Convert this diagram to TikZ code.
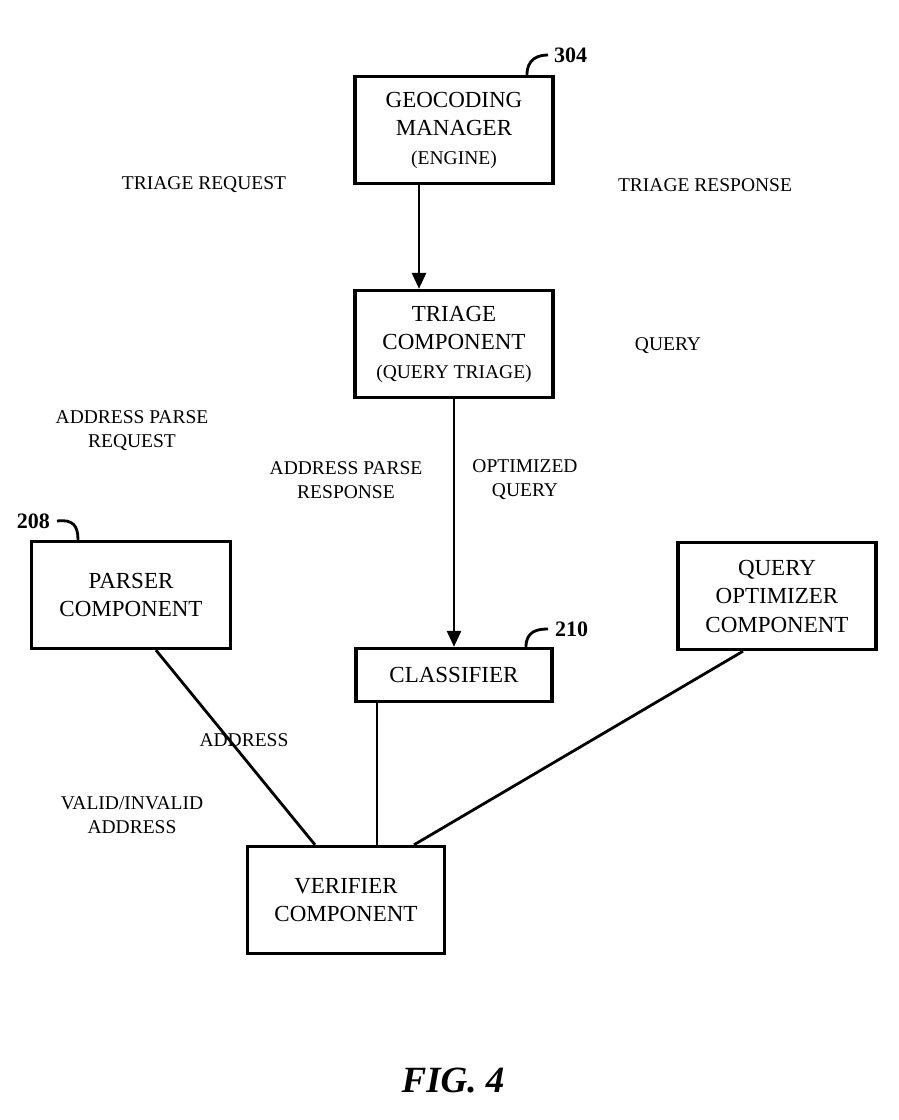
\documentclass[tikz,border=0pt]{standalone}
\usepackage{fontspec}
\setmainfont{Liberation Serif}
\usetikzlibrary{
  arrows.meta,
  calc
}
\tikzset{
  compbox/.style={draw=black, line width=3.4pt, minimum width=198pt, minimum height=107pt,
        inner sep=0pt, align=center, font=\fontsize{23}{28.5}\selectfont},
  flowlabel/.style={align=center, inner sep=0pt, font=\fontsize{19.5}{24}\selectfont},
  refnum/.style={inner sep=0pt, anchor=west, font=\fontsize{22}{24}\selectfont\bfseries},
  leader/.style={line width=2.8pt},
  link/.style={line width=2.8pt}
}
\newcommand{\subtext}[1]{{\fontsize{19.5}{28.5}\selectfont #1}}

\begin{document}
\begin{tikzpicture}[x=1pt, y=-1pt]
  \useasboundingbox (0,0) rectangle (899,1120);
  % Top: geocoding manager
  \node[compbox] (geo) at (454,130) {GEOCODING\\MANAGER\\\subtext{(ENGINE)}};
  \node[refnum] (n304) at (554,55) {304};
  \draw[leader] ([xshift=73pt]geo.north) .. controls ++(0,-16) and ++(-10,0) .. ([xshift=-6pt]n304.west);
  % Triage
  \node[compbox] (triage) at (454,344) {TRIAGE\\COMPONENT\\\subtext{(QUERY TRIAGE)}};
  \draw[link, -{Triangle[length=16pt, width=14pt]}] ([xshift=-35pt]geo.south) -- ([xshift=-35pt]triage.north);
  % Classifier
  \node[compbox, minimum height=53pt, minimum width=196pt] (clf) at (454,675) {CLASSIFIER};
  \node[refnum] (n210) at (555,629) {210};
  \draw[leader] ([xshift=72pt]clf.north) .. controls ++(0,-16) and ++(-10,0) .. ([xshift=-7pt]n210.west);
  \draw[link, -{Triangle[length=16pt, width=14pt]}] (triage.south) -- (clf.north);
  % Parser side
  \node[compbox, minimum width=199pt] (parser) at (131,595) {PARSER\\COMPONENT};
  \node[refnum, anchor=east] (n208) at (50,521) {208};
  \draw[leader] (n208.east) ++(7,0) .. controls ++(16,-2) and ++(0,-14) .. ([xshift=-53pt]parser.north);
  % Query optimizer side
  \node[compbox] (opt) at (777,596) {QUERY\\OPTIMIZER\\COMPONENT};
  % Verifier
  \node[compbox, minimum width=197pt] (ver) at (346,900) {VERIFIER\\COMPONENT};
  % Lines into the verifier
  \draw[link] ([xshift=25pt]parser.south) -- ([xshift=-31pt]ver.north);
  \draw[link] ([xshift=-77pt]clf.south) -- ([xshift=-77pt]clf.south |- ver.north);
  \draw[link] ([xshift=-34pt]opt.south) -- ([xshift=68pt]ver.north);
  % Flow labels
  \node[flowlabel] (treq) at (204,185) {TRIAGE REQUEST};
  \node[flowlabel] (tresp) at (705,185) {TRIAGE RESPONSE};
  \node[flowlabel] (qry) at (668,346) {QUERY};
  \node[flowlabel] (apreq) at (132,431) {ADDRESS PARSE\\REQUEST};
  \node[flowlabel] (apresp) at (346,480) {ADDRESS PARSE\\RESPONSE};
  \node[flowlabel] (optq) at (525,480) {OPTIMIZED\\QUERY};
  \node[flowlabel] (addr) at (244,740) {ADDRESS};
  \node[flowlabel] (valid) at (132,815) {VALID/INVALID\\ADDRESS};
  % Caption
  \node[font=\fontsize{37}{40}\selectfont\bfseries\itshape] (fig) at (453,1080) {FIG. 4};
\end{tikzpicture}
\end{document}
